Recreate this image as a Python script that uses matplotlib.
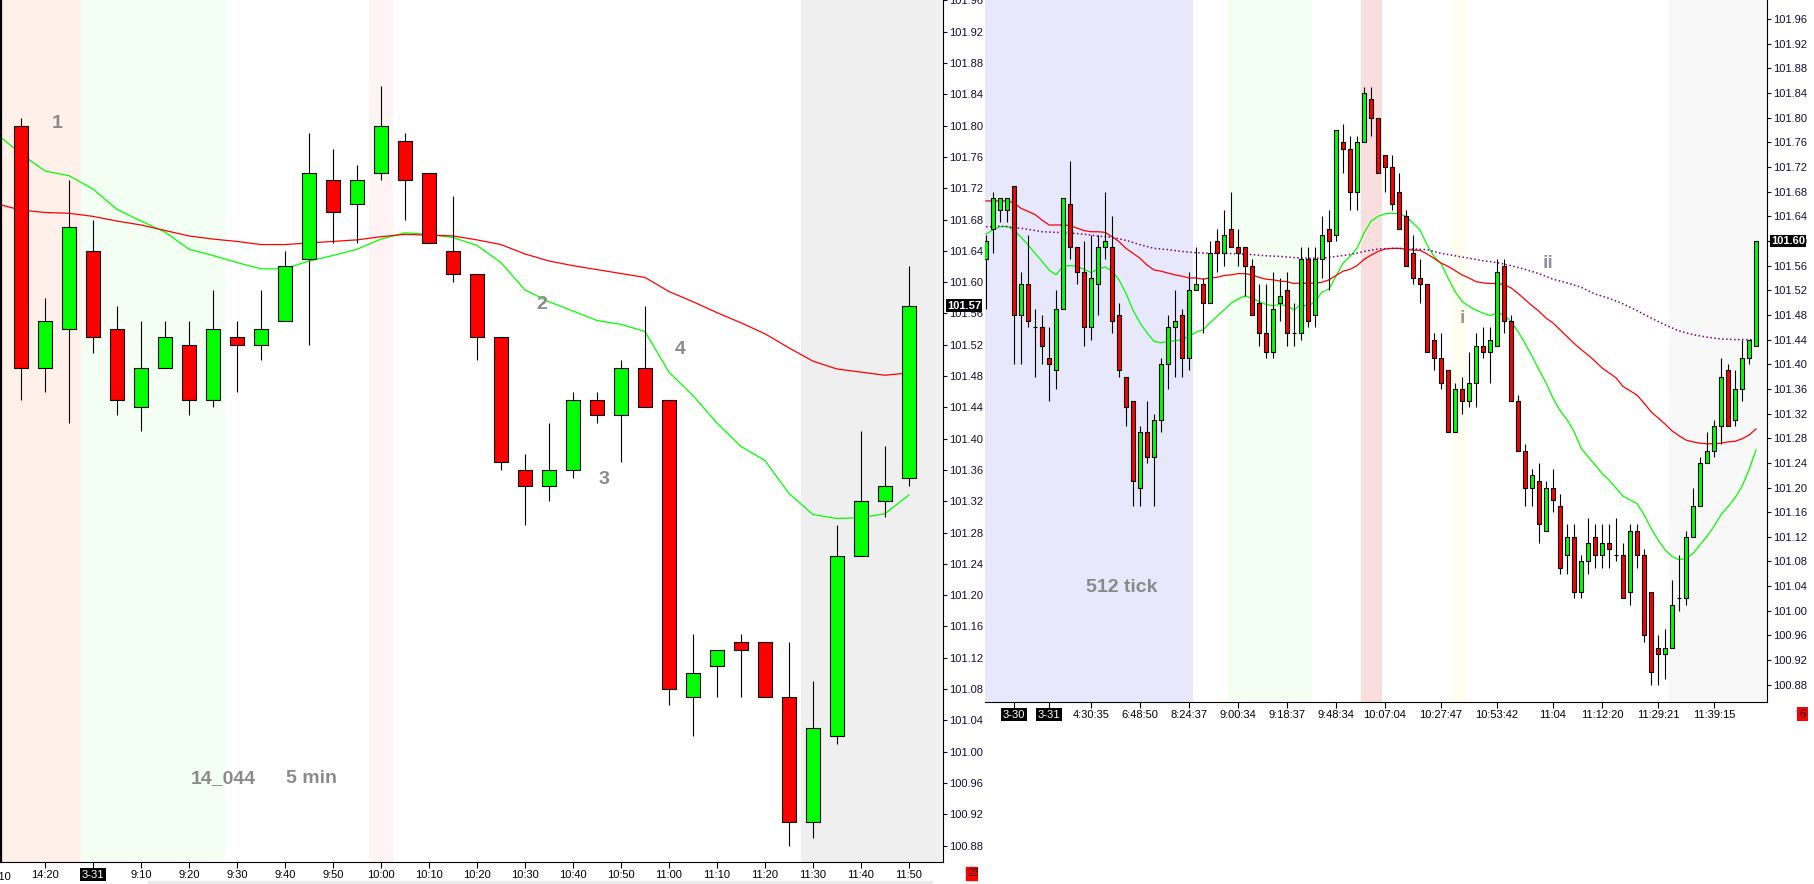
import numpy as np
import matplotlib
matplotlib.use("Agg")
import matplotlib.pyplot as plt
from matplotlib.patches import Rectangle

plt.rcParams["font.family"] = ["Liberation Sans", "DejaVu Sans"]

W, H = 1814, 884

# ---------------- left chart: 5 min bars ----------------
left_open = [101.80, 101.49, 101.54, 101.64, 101.54, 101.44, 101.49, 101.52, 101.45, 101.53,
             101.52, 101.55, 101.63, 101.73, 101.70, 101.74, 101.78, 101.74, 101.64, 101.61,
             101.53, 101.36, 101.34, 101.36, 101.45, 101.43, 101.49, 101.45, 101.07, 101.11,
             101.14, 101.14, 101.07, 100.91, 101.02, 101.25, 101.32, 101.35]
left_high = [101.81, 101.58, 101.73, 101.68, 101.57, 101.55, 101.55, 101.55, 101.59, 101.55,
             101.59, 101.64, 101.79, 101.77, 101.75, 101.85, 101.79, 101.74, 101.71, 101.61,
             101.53, 101.38, 101.42, 101.46, 101.46, 101.50, 101.57, 101.45, 101.15, 101.13,
             101.15, 101.14, 101.14, 101.09, 101.29, 101.41, 101.39, 101.62]
left_low = [101.45, 101.46, 101.42, 101.51, 101.43, 101.41, 101.49, 101.43, 101.44, 101.46,
            101.50, 101.55, 101.52, 101.65, 101.65, 101.73, 101.68, 101.65, 101.60, 101.50,
            101.36, 101.29, 101.32, 101.35, 101.42, 101.37, 101.44, 101.06, 101.02, 101.07,
            101.07, 101.07, 100.88, 100.89, 101.01, 101.25, 101.30, 101.34]
left_close = [101.49, 101.55, 101.67, 101.53, 101.45, 101.49, 101.53, 101.45, 101.54, 101.52,
              101.54, 101.62, 101.74, 101.69, 101.73, 101.80, 101.73, 101.65, 101.61, 101.53,
              101.37, 101.34, 101.36, 101.45, 101.43, 101.49, 101.44, 101.08, 101.10, 101.13,
              101.13, 101.07, 100.91, 101.03, 101.25, 101.32, 101.34, 101.57]

# moving averages, first value belongs to the bar before the visible window
left_ma_bars = list(range(-1, 38))
left_fast_ma = [101.789, 101.764, 101.742, 101.736, 101.719, 101.693, 101.678, 101.664, 101.642, 101.634,
                101.625, 101.617, 101.617, 101.627, 101.634, 101.642, 101.655, 101.663, 101.661, 101.657,
                101.647, 101.625, 101.590, 101.575, 101.563, 101.551, 101.546, 101.537, 101.485, 101.455,
                101.420, 101.390, 101.372, 101.330, 101.303, 101.298, 101.299, 101.304, 101.328]
left_slow_ma = [101.700, 101.692, 101.689, 101.688, 101.684, 101.678, 101.673, 101.666, 101.659, 101.655,
                101.652, 101.648, 101.648, 101.650, 101.652, 101.654, 101.658, 101.661, 101.660, 101.659,
                101.654, 101.648, 101.636, 101.627, 101.621, 101.616, 101.611, 101.606, 101.588, 101.575,
                101.561, 101.548, 101.534, 101.516, 101.499, 101.489, 101.485, 101.481, 101.484]

left_tick_bars = [1, 3, 5, 7, 9, 11, 13, 15, 17, 19, 21, 23, 25, 27, 29, 31, 33, 35, 37]
left_tick_labels = ["14:20", "3-31", "9:10", "9:20", "9:30", "9:40", "9:50", "10:00", "10:10", "10:20",
                    "10:30", "10:40", "10:50", "11:00", "11:10", "11:20", "11:30", "11:40", "11:50"]
left_last_price = 101.57

# ---------------- right chart: 512 tick bars ----------------
right_open = [101.57, 101.62, 101.65, 101.65, 101.69, 101.48, 101.53, 101.46, 101.46, 101.41,
              101.39, 101.49, 101.66, 101.59, 101.55, 101.46, 101.53, 101.59, 101.59, 101.48,
              101.38, 101.34, 101.20, 101.29, 101.25, 101.31, 101.40, 101.46, 101.48, 101.41,
              101.52, 101.53, 101.50, 101.60, 101.58, 101.62, 101.59, 101.59, 101.56, 101.50,
              101.45, 101.42, 101.50, 101.52, 101.45, 101.45, 101.57, 101.48, 101.57, 101.62,
              101.61, 101.76, 101.75, 101.68, 101.76, 101.83, 101.80, 101.74, 101.72, 101.68,
              101.64, 101.58, 101.54, 101.53, 101.44, 101.41, 101.39, 101.29, 101.36, 101.34,
              101.37, 101.43, 101.42, 101.43, 101.56, 101.47, 101.34, 101.26, 101.20, 101.21,
              101.13, 101.20, 101.17, 101.09, 101.12, 101.03, 101.08, 101.12, 101.09, 101.11,
              101.09, 101.09, 101.03, 101.13, 101.09, 101.03, 100.94, 100.93, 100.94, 101.02,
              101.02, 101.12, 101.17, 101.24, 101.26, 101.30, 101.39, 101.31, 101.36, 101.41,
              101.43]
right_high = [101.61, 101.68, 101.67, 101.67, 101.69, 101.55, 101.61, 101.49, 101.48, 101.46,
              101.52, 101.67, 101.73, 101.59, 101.60, 101.61, 101.61, 101.68, 101.64, 101.50,
              101.38, 101.34, 101.30, 101.34, 101.32, 101.41, 101.48, 101.52, 101.49, 101.55,
              101.59, 101.54, 101.60, 101.62, 101.65, 101.68, 101.62, 101.59, 101.57, 101.53,
              101.53, 101.55, 101.54, 101.55, 101.50, 101.59, 101.59, 101.59, 101.64, 101.65,
              101.78, 101.79, 101.77, 101.77, 101.85, 101.85, 101.80, 101.74, 101.74, 101.71,
              101.65, 101.61, 101.57, 101.53, 101.45, 101.45, 101.39, 101.37, 101.38, 101.42,
              101.45, 101.46, 101.46, 101.57, 101.57, 101.48, 101.35, 101.27, 101.23, 101.24,
              101.21, 101.23, 101.19, 101.14, 101.14, 101.09, 101.15, 101.14, 101.14, 101.14,
              101.15, 101.11, 101.14, 101.14, 101.10, 101.03, 100.96, 100.97, 101.05, 101.09,
              101.13, 101.20, 101.25, 101.29, 101.31, 101.41, 101.40, 101.39, 101.44, 101.44,
              101.60]
right_low = [101.49, 101.58, 101.63, 101.63, 101.40, 101.40, 101.46, 101.38, 101.40, 101.34,
             101.36, 101.49, 101.57, 101.53, 101.43, 101.44, 101.48, 101.57, 101.45, 101.38,
             101.30, 101.17, 101.17, 101.24, 101.17, 101.29, 101.36, 101.38, 101.38, 101.39,
             101.52, 101.45, 101.50, 101.55, 101.56, 101.59, 101.56, 101.51, 101.48, 101.43,
             101.41, 101.41, 101.47, 101.43, 101.43, 101.44, 101.46, 101.46, 101.54, 101.52,
             101.60, 101.71, 101.65, 101.65, 101.76, 101.77, 101.71, 101.68, 101.65, 101.62,
             101.56, 101.53, 101.50, 101.42, 101.39, 101.36, 101.29, 101.29, 101.32, 101.33,
             101.33, 101.41, 101.37, 101.43, 101.45, 101.34, 101.26, 101.17, 101.17, 101.11,
             101.13, 101.16, 101.06, 101.06, 101.02, 101.02, 101.06, 101.07, 101.07, 101.07,
             101.08, 101.02, 101.01, 101.07, 100.95, 100.88, 100.88, 100.89, 100.94, 101.00,
             101.01, 101.12, 101.17, 101.24, 101.25, 101.27, 101.30, 101.30, 101.34, 101.40,
             101.43]
right_close = [101.60, 101.67, 101.67, 101.67, 101.48, 101.53, 101.47, 101.46, 101.43, 101.40,
               101.49, 101.67, 101.59, 101.55, 101.46, 101.54, 101.59, 101.60, 101.47, 101.39,
               101.33, 101.21, 101.29, 101.25, 101.31, 101.40, 101.46, 101.47, 101.41, 101.52,
               101.53, 101.50, 101.58, 101.58, 101.61, 101.59, 101.58, 101.56, 101.48, 101.45,
               101.42, 101.49, 101.51, 101.45, 101.45, 101.57, 101.47, 101.57, 101.61, 101.60,
               101.78, 101.75, 101.68, 101.76, 101.84, 101.80, 101.71, 101.72, 101.66, 101.62,
               101.56, 101.54, 101.53, 101.42, 101.41, 101.37, 101.29, 101.36, 101.34, 101.37,
               101.43, 101.42, 101.44, 101.55, 101.47, 101.34, 101.26, 101.20, 101.22, 101.14,
               101.20, 101.18, 101.07, 101.12, 101.03, 101.08, 101.11, 101.09, 101.11, 101.10,
               101.09, 101.02, 101.13, 101.09, 100.96, 100.90, 100.93, 100.94, 101.01, 101.02,
               101.12, 101.17, 101.24, 101.26, 101.30, 101.38, 101.30, 101.36, 101.41, 101.44,
               101.60]

right_fast_ma = [101.611, 101.618, 101.623, 101.624, 101.618, 101.606, 101.594, 101.580, 101.567, 101.553,
                 101.545, 101.559, 101.560, 101.559, 101.554, 101.549, 101.554, 101.558, 101.551, 101.537,
                 101.515, 101.488, 101.467, 101.451, 101.437, 101.435, 101.437, 101.438, 101.440, 101.445,
                 101.452, 101.456, 101.467, 101.478, 101.488, 101.499, 101.506, 101.511, 101.507, 101.502,
                 101.497, 101.495, 101.497, 101.495, 101.488, 101.497, 101.494, 101.502, 101.517, 101.522,
                 101.543, 101.564, 101.575, 101.588, 101.613, 101.632, 101.640, 101.644, 101.645, 101.644,
                 101.640, 101.629, 101.618, 101.594, 101.575, 101.564, 101.540, 101.518, 101.502, 101.494,
                 101.488, 101.483, 101.479, 101.483, 101.480, 101.469, 101.453, 101.434, 101.413, 101.391,
                 101.370, 101.345, 101.325, 101.310, 101.291, 101.264, 101.250, 101.237, 101.223, 101.212,
                 101.199, 101.186, 101.180, 101.174, 101.156, 101.134, 101.115, 101.099, 101.088, 101.083,
                 101.085, 101.093, 101.107, 101.121, 101.137, 101.156, 101.169, 101.183, 101.202, 101.229,
                 101.261]
right_mid_ma = [101.665, 101.665, 101.665, 101.665, 101.662, 101.653, 101.648, 101.643, 101.634, 101.626,
                101.626, 101.626, 101.625, 101.621, 101.617, 101.615, 101.615, 101.614, 101.607, 101.599,
                101.588, 101.580, 101.572, 101.561, 101.553, 101.551, 101.548, 101.545, 101.543, 101.540,
                101.540, 101.538, 101.540, 101.541, 101.544, 101.545, 101.547, 101.547, 101.545, 101.541,
                101.538, 101.537, 101.535, 101.534, 101.531, 101.532, 101.531, 101.532, 101.533, 101.537,
                101.544, 101.551, 101.554, 101.560, 101.570, 101.577, 101.583, 101.587, 101.588, 101.588,
                101.587, 101.585, 101.585, 101.579, 101.572, 101.564, 101.559, 101.552, 101.545, 101.540,
                101.534, 101.532, 101.531, 101.531, 101.529, 101.524, 101.515, 101.505, 101.495, 101.486,
                101.475, 101.467, 101.456, 101.445, 101.434, 101.424, 101.415, 101.405, 101.394, 101.386,
                101.378, 101.364, 101.357, 101.350, 101.337, 101.323, 101.313, 101.303, 101.292, 101.284,
                101.277, 101.274, 101.272, 101.271, 101.271, 101.272, 101.274, 101.275, 101.279, 101.285,
                101.295]
# slow dotted average, read every other bar
right_slow_bars = list(range(0, 59, 2)) + list(range(59, 110, 2)) + [110]
right_slow_ma = [101.623, 101.624, 101.622, 101.619, 101.615, 101.614, 101.613, 101.611, 101.608, 101.606,
                 101.601, 101.594, 101.588, 101.586, 101.583, 101.581, 101.580, 101.580, 101.579, 101.578,
                 101.576, 101.575, 101.573, 101.572, 101.572, 101.575, 101.578, 101.583, 101.587, 101.588,
                 101.588, 101.587, 101.586, 101.580, 101.576, 101.572, 101.568, 101.565, 101.560, 101.554,
                 101.547, 101.538, 101.532, 101.525, 101.514, 101.507, 101.498, 101.487, 101.475, 101.464,
                 101.454, 101.448, 101.444, 101.441, 101.440, 101.440, 101.440]

right_tick_bars = [4, 9, 15, 22, 29, 36, 43, 50, 57, 65, 73, 81, 88, 96, 104]
right_tick_labels = ["3-30", "3-31", "4:30:35", "6:48:50", "8:24:37", "9:00:34", "9:18:37", "9:48:34",
                     "10:07:04", "10:27:47", "10:53:42", "11:04", "11:12:20", "11:29:21", "11:39:15"]
right_last_price = 101.60

date_labels = {"3-30", "3-31"}
GREEN, RED = "#00ff00", "#ff0000"
NOTE = "#8a8a8a"


def candles(ax, o, h, l, c, width):
    x = np.arange(len(o))
    o, h, l, c = map(np.asarray, (o, h, l, c))
    ax.vlines(x, l, h, color="black", lw=0.8, zorder=3)
    colors = np.where(c > o, GREEN, np.where(c < o, RED, "black"))
    ax.bar(x, np.abs(c - o), width=width, bottom=np.minimum(o, c), color=colors,
           edgecolor="black", linewidth=0.8, zorder=4)


def style_axis(ax, xticks, xlabels, yticks, with_left):
    for side in ("top",):
        ax.spines[side].set_visible(False)
    ax.spines["left"].set_visible(with_left)
    if with_left:
        ax.spines["left"].set_linewidth(1.6)
    ax.yaxis.tick_right()
    ax.set_yticks(yticks)
    ax.set_yticklabels([f"{v:.2f}" for v in yticks])
    ax.tick_params(axis="y", direction="out", length=3, pad=1.5, labelsize=8, colors="#101030")
    ax.tick_params(axis="x", direction="out", length=4, pad=1.5, labelsize=8, colors="black")
    ax.set_xticks(xticks)
    labs = ax.set_xticklabels(xlabels)
    for t in labs:
        if t.get_text() in date_labels:
            t.set_color("white")
            t.set_bbox(dict(facecolor="black", edgecolor="none", pad=1.2))
    ax.set_facecolor("white")


def last_price(ax, price):
    ax.annotate(f"{price:.2f}", xy=(1, price), xycoords=("axes fraction", "data"),
                xytext=(4, 0), textcoords="offset pixels", ha="left", va="center",
                fontsize=8, fontweight="bold", color="white", zorder=10,
                annotation_clip=False,
                bbox=dict(facecolor="black", edgecolor="none", pad=1.0))


fig = plt.figure(figsize=(W / 100, H / 100), dpi=100)

# ---------------- left panel ----------------
axl = fig.add_axes([1 / W, 22 / H, 942 / W, 862 / H])
axl.set_xlim(-0.833, 38.42)
axl.set_ylim(100.859, 101.9605)
for a, b, col in [(-2, 2.5, "#fff0ea"), (2.5, 8.5, "#f3fff3"), (14.5, 15.5, "#fff3f3"), (32.5, 40, "#efefef")]:
    axl.axvspan(a, b, color=col, lw=0, zorder=0)
axl.plot(left_ma_bars, left_fast_ma, color=GREEN, lw=0.9, zorder=2)
axl.plot(left_ma_bars, left_slow_ma, color=RED, lw=0.9, zorder=2)
candles(axl, left_open, left_high, left_low, left_close, 0.6)
style_axis(axl, left_tick_bars, left_tick_labels, np.round(np.arange(100.88, 101.97, 0.04), 2), True)
axl.text(-1, -0.012, "14:10", transform=axl.get_xaxis_transform(), ha="center", va="top",
         fontsize=8, clip_on=False)
last_price(axl, left_last_price)
for txt, x, y in [("1", 1.5, 101.803), ("2", 21.7, 101.572), ("3", 24.3, 101.348), ("4", 27.46, 101.514),
                  ("14_044", 8.42, 100.966), ("5 min", 12.1, 100.966)]:
    axl.text(x, y, txt, ha="center", va="center", fontsize=14, fontweight="bold", color=NOTE, zorder=6)

# ---------------- right panel ----------------
axr = fig.add_axes([985 / W, 182 / H, 782 / W, 702 / H])
axr.set_xlim(-0.143, 111.57)
axr.set_ylim(100.852, 101.991)
for a, b, col in [(-2, 29.5, "#e8e8fc"), (34.5, 46.5, "#f3fff3"), (53.5, 56.5, "#f9dede"),
                  (66.5, 68.5, "#fffff0"), (97.5, 115, "#f8f8f8")]:
    axr.axvspan(a, b, color=col, lw=0, zorder=0)
axr.plot(range(len(right_fast_ma)), right_fast_ma, color=GREEN, lw=0.9, zorder=2)
axr.plot(range(len(right_mid_ma)), right_mid_ma, color=RED, lw=0.9, zorder=2)
axr.plot(right_slow_bars, right_slow_ma, color="#800080", lw=1.1, ls=(0, (1, 1.6)), zorder=2)
candles(axr, right_open, right_high, right_low, right_close, 0.55)
style_axis(axr, right_tick_bars, right_tick_labels, np.round(np.arange(100.88, 101.97, 0.04), 2), False)
last_price(axr, right_last_price)
axr.text(19.4, 101.037, "512 tick", ha="center", va="center", fontsize=14, fontweight="bold", color=NOTE, zorder=6)
axr.text(68.1, 101.475, "i", ha="center", va="center", fontsize=14, fontweight="bold", color="#a09a88", zorder=6)
axr.text(80.3, 101.563, "ii", ha="center", va="center", fontsize=14, fontweight="bold", color="#8a90a0", zorder=6)

# ---------------- bar counters and scroll strip ----------------
axc = fig.add_axes([943 / W, 0, 35 / W, 1])
axc.axis("off")
axc.set_xlim(943, 978)
axc.set_ylim(H, 0)
axc.add_patch(Rectangle((966, 867), 14, 13, color=RED))
axc.text(967, 873.5, "23", ha="left", va="center", fontsize=8, color="black", clip_on=True)
fig.text(1802.5 / W, 1 - 714 / H, "6", ha="center", va="center", fontsize=8, color="black",
         bbox=dict(facecolor=RED, edgecolor="none", pad=1.5))
fig.patches.append(Rectangle((148 / W, 0), (932 - 148) / W, 3 / H, transform=fig.transFigure,
                             color="#ebebeb", zorder=0))

fig.savefig("out.png", dpi=100, facecolor="white")
